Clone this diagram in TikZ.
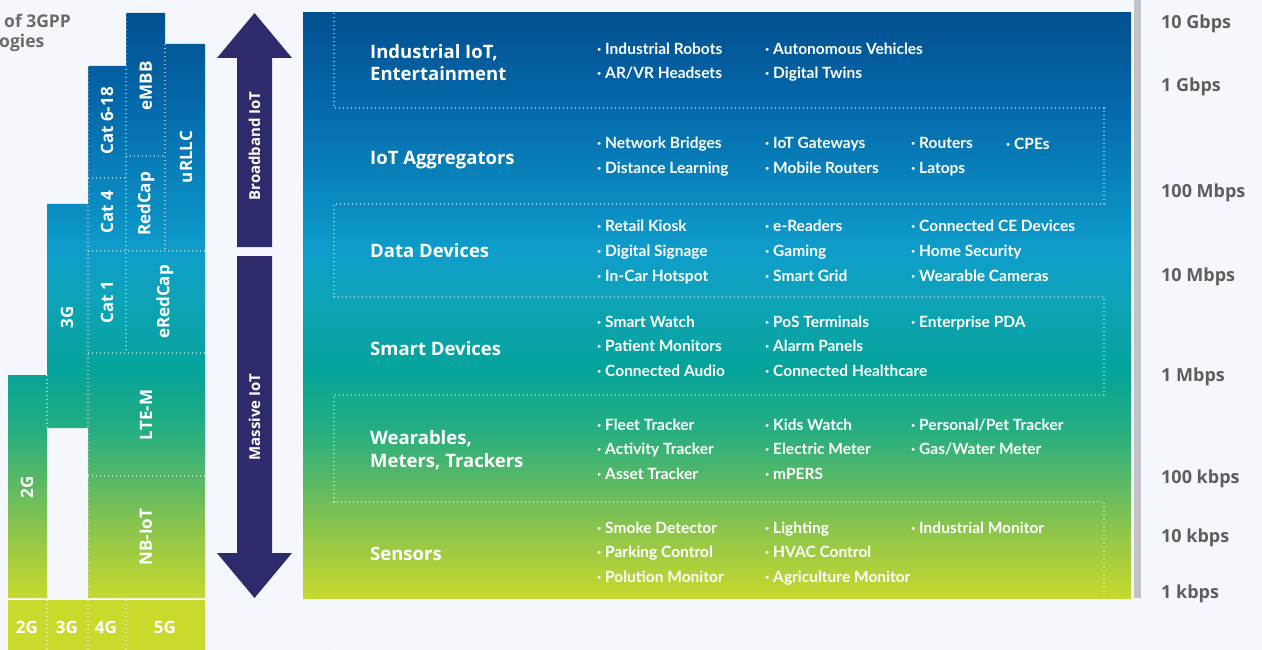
\documentclass[tikz,border=0pt]{standalone}
\usepackage{fontspec}
\setmainfont{Open Sans}
\newfontfamily\itemfont{Lato}
\usetikzlibrary{positioning}

\definecolor{bgpale}{HTML}{F4F8FC}
\definecolor{navyarrow}{HTML}{2E2B6D}
\definecolor{railgrey}{HTML}{C2C2C6}
\definecolor{rategrey}{HTML}{5E5E5E}
\definecolor{titlegrey}{HTML}{6B6B6B}
\definecolor{limeband}{HTML}{C8DA2C}
% gradient stops, bottom to top
\definecolor{gA}{HTML}{C6D92E}
\definecolor{gB}{HTML}{8DC54B}
\definecolor{gC}{HTML}{58B866}
\definecolor{gD}{HTML}{25AE80}
\definecolor{gE}{HTML}{05A39A}
\definecolor{gF}{HTML}{0EA3B8}
\definecolor{gG}{HTML}{0E9DCB}
\definecolor{gH}{HTML}{0A8AC1}
\definecolor{gI}{HTML}{0467A9}
\definecolor{gJ}{HTML}{03508F}
\pgfdeclareverticalshading{iotfade}{100bp}{color(0bp)=(gA); color(25bp)=(gA);
  color(30.8bp)=(gB); color(35.1bp)=(gC); color(39.4bp)=(gD); color(44.5bp)=(gE);
  color(50.5bp)=(gF); color(54.7bp)=(gG); color(59bp)=(gH); color(67.6bp)=(gI);
  color(75bp)=(gJ); color(100bp)=(gJ)}

\begin{document}
\begin{tikzpicture}[x=1pt, y=-1pt,
    item/.style={anchor=base west, inner sep=0pt, text=white, font=\itemfont\bfseries\fontsize{15.5}{18}\selectfont},
    cattitle/.style={anchor=base west, inner sep=0pt, text=white, font=\bfseries\fontsize{18.5}{22}\selectfont},
    rate/.style={anchor=base west, inner sep=0pt, text=rategrey, font=\bfseries\fontsize{18}{22}\selectfont},
    barlabel/.style={rotate=90, inner sep=0pt, text=white, font=\bfseries\fontsize{17}{20}\selectfont},
    iotlabel/.style={rotate=90, inner sep=0pt, text=white, font=\bfseries\fontsize{15}{17}\selectfont},
    dotsep/.style={draw=white, draw opacity=.55, line width=1.3pt, dash pattern=on 1.3pt off 2.7pt}]
  \useasboundingbox (0,0) rectangle (1262,650);
  \fill[bgpale] (0,0) rectangle (1262,650);

  % heading, cut by the left edge
  \node[anchor=base west, inner sep=0pt, text=titlegrey, font=\bfseries\fontsize{17.5}{22}\selectfont] (head1) at (4,28) {of 3GPP};
  \node[anchor=base west, inner sep=0pt, text=titlegrey, font=\bfseries\fontsize{17.5}{22}\selectfont] (head2) at (-1,48) {ogies};

  % technology bars
  \begin{scope}
    \clip (8,375) rectangle (47,598) (47,204) rectangle (88,428) (88,66) rectangle (126,598)
          (126,13) rectangle (165,598) (165,44) rectangle (205,598);
    \shade[shading=iotfade] (8,13) rectangle (205,598);
  \end{scope}
  \draw[dotsep] (47,375) -- (47,428);
  \draw[dotsep] (88,66) -- (88,598);
  \draw[dotsep] (126,13) -- (126,353);
  \draw[dotsep] (165,44) -- (165,251);
  \draw[dotsep] (88,178) -- (126,178);
  \draw[dotsep] (126,156) -- (165,156);
  \draw[dotsep] (88,251) -- (205,251);
  \draw[dotsep] (88,353) -- (205,353);
  \draw[dotsep] (88,476) -- (205,476);

  \node[barlabel] (b2g)    at (27,487)  {2G};
  \node[barlabel] (b3g)    at (67,317)  {3G};
  \node[barlabel] (cat618) at (107,121) {Cat 6-18};
  \node[barlabel] (cat4)   at (107,212) {Cat 4};
  \node[barlabel] (cat1)   at (107,302) {Cat 1};
  \node[barlabel] (embb)   at (146,86)  {eMBB};
  \node[barlabel] (redcap) at (146,204) {RedCap};
  \node[barlabel] (urllc)  at (186,157) {uRLLC};
  \node[barlabel] (eredcap) at (165,302) {eRedCap};
  \node[barlabel] (ltem)   at (146,415) {LTE-M};
  \node[barlabel] (nbiot)  at (146,537) {NB-IoT};

  % generation row
  \fill[limeband] (8,600) rectangle (205,650);
  \foreach \gx in {47,88,126}
    \draw[dotsep] (\gx,600) -- (\gx,650);
  \foreach \gx/\gt in {27/2G,67/3G,106/4G,165/5G}
    \node[barlabel, rotate=-90] (gen\gt) at (\gx,627) {\gt};

  % broadband / massive arrows
  \fill[navyarrow] (237,247) -- (237,58) -- (217,58) -- (254.5,13) -- (292,58) -- (272,58) -- (272,247) -- cycle;
  \fill[navyarrow] (237,256) -- (237,553) -- (217,553) -- (254.5,598) -- (292,553) -- (272,553) -- (272,256) -- cycle;
  \node[iotlabel] (bbiot) at (254.5,146) {Broadband IoT};
  \node[iotlabel] (miot)  at (254.5,417) {Massive IoT};

  % device panel
  \shade[shading=iotfade] (303,13) rectangle (1131,598);
  \draw[dotsep] (334,13) -- (334,108) -- (1104,108) -- (1104,204) -- (334,204) -- (334,297)
    -- (1104,297) -- (1104,395) -- (334,395) -- (334,502) -- (1104,502) -- (1104,605)
    -- (334,605) -- (334,650);

  \node[cattitle] (indiot)   at (370,59)  {Industrial IoT,};
  \node[cattitle] (entert)   at (370,81)  {Entertainment};
  \node[cattitle] (aggreg)   at (370,165) {IoT Aggregators};
  \node[cattitle] (datadev)  at (370,258) {Data Devices};
  \node[cattitle] (smartdev) at (370,355) {Smart Devices};
  \node[cattitle] (wearab)   at (370,444) {Wearables,};
  \node[cattitle] (meters)   at (370,467) {Meters, Trackers};
  \node[cattitle] (sensors)  at (370,560) {Sensors};

  \foreach \x/\y/\t [count=\i] in {
      597/55/Industrial Robots, 597/79/{AR/VR Headsets},
      765/55/Autonomous Vehicles, 765/79/Digital Twins,
      597/149/Network Bridges, 597/174/Distance Learning,
      765/149/IoT Gateways, 765/174/Mobile Routers,
      911/149/Routers, 911/174/Latops, 1006/150/CPEs,
      597/232/Retail Kiosk, 597/256/Digital Signage, 597/281/In-Car Hotspot,
      765/232/e-Readers, 765/256/Gaming, 765/281/Smart Grid,
      911/232/Connected CE Devices, 911/256/Home Security, 911/281/Wearable Cameras,
      597/327/Smart Watch, 597/351/Patient Monitors, 597/376/Connected Audio,
      765/327/PoS Terminals, 765/351/Alarm Panels, 765/376/Connected Healthcare,
      911/327/Enterprise PDA,
      597/430/Fleet Tracker, 597/454/Activity Tracker, 597/479/Asset Tracker,
      765/430/Kids Watch, 765/454/Electric Meter, 765/479/mPERS,
      911/430/{Personal/Pet Tracker}, 911/454/{Gas/Water Meter},
      597/533/Smoke Detector, 597/557/Parking Control, 597/582/Polution Monitor,
      765/533/Lighting, 765/557/HVAC Control, 765/582/Agriculture Monitor,
      911/533/Industrial Monitor}
    \node[item] (dev\i) at (\x,\y) {·\ \t};

  % data rate scale
  \fill[railgrey] (1134,0) rectangle (1141,598);
  \foreach \y/\t [count=\i] in {29/10 Gbps, 92/1 Gbps, 197/100 Mbps, 281/10 Mbps,
      381/1 Mbps, 483/100 kbps, 542/10 kbps, 598/1 kbps}
    \node[rate] (rate\i) at (1161,\y) {\t};
\end{tikzpicture}
\end{document}
